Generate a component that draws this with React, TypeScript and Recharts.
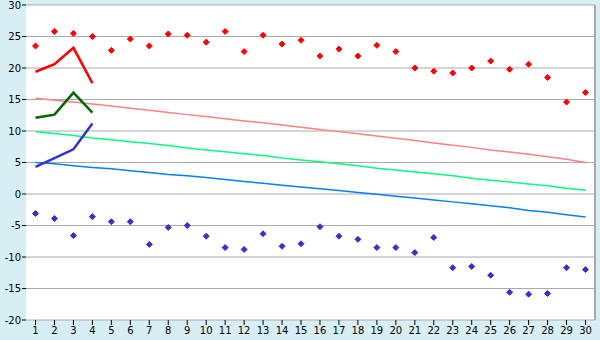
import React from 'react';
import { ComposedChart, Line, XAxis, YAxis, CartesianGrid } from 'recharts';

const categories = Array.from({ length: 30 }, (_, i) => String(i + 1));

// scattered upper points (red) and lower points (blue)
const redPoints = [23.5, 25.8, 25.5, 25.0, 22.8, 24.6, 23.5, 25.4, 25.2, 24.1, 25.8, 22.6, 25.2, 23.8, 24.4, 21.9, 23.0, 21.9, 23.6, 22.6, 20.0, 19.5, 19.2, 20.0, 21.1, 19.8, 20.6, 18.5, 14.6, 16.1];
const bluePoints = [-3.1, -3.9, -6.6, -3.6, -4.4, -4.4, -8.0, -5.3, -5.0, -6.7, -8.5, -8.8, -6.3, -8.3, -7.9, -5.2, -6.7, -7.2, -8.5, -8.5, -9.3, -6.9, -11.7, -11.5, -12.9, -15.6, -15.9, -15.8, -11.7, -12.0];

// short heavy lines over the first four categories
const redLine = [19.4, 20.6, 23.2, 17.6];
const greenLine = [12.1, 12.6, 16.1, 12.9];
const blueLine = [4.3, 5.7, 7.1, 11.2];

// thin trend lines
const salmonTrend = [15.2, 14.9, 14.6, 14.3, 13.95, 13.6, 13.3, 12.95, 12.6, 12.3, 11.95, 11.6, 11.3, 10.95, 10.6, 10.25, 9.9, 9.55, 9.2, 8.85, 8.5, 8.1, 7.75, 7.4, 7.0, 6.65, 6.3, 5.9, 5.5, 5.0];
const greenTrend = [9.9, 9.6, 9.3, 8.9, 8.6, 8.3, 8.0, 7.7, 7.3, 7.0, 6.7, 6.4, 6.1, 5.7, 5.4, 5.1, 4.8, 4.5, 4.1, 3.8, 3.5, 3.2, 2.9, 2.5, 2.2, 1.9, 1.6, 1.3, 0.9, 0.6];
const blueTrend = [5.0, 4.8, 4.5, 4.2, 4.0, 3.7, 3.4, 3.1, 2.9, 2.6, 2.3, 2.0, 1.7, 1.4, 1.1, 0.85, 0.55, 0.25, -0.05, -0.35, -0.65, -0.95, -1.25, -1.55, -1.85, -2.2, -2.6, -2.9, -3.3, -3.65];

const yTicks = [-20, -15, -10, -5, 0, 5, 10, 15, 20, 25, 30];

const data = categories.map((c, i) => ({
  cat: c,
  redPt: redPoints[i],
  bluePt: bluePoints[i],
  redLn: i < redLine.length ? redLine[i] : null,
  greenLn: i < greenLine.length ? greenLine[i] : null,
  blueLn: i < blueLine.length ? blueLine[i] : null,
  salmon: salmonTrend[i],
  green: greenTrend[i],
  blue: blueTrend[i],
}));

const makeMarker = (color: string) => (props: any) => {
  const { cx, cy, index } = props;
  if (cx == null || cy == null) return <g key={index} />;
  const r = 3;
  return (
    <path
      key={index}
      d={`M${cx - r},${cy} L${cx},${cy - r} L${cx + r},${cy} L${cx},${cy + r} Z`}
      fill={color}
      stroke={color}
      strokeWidth={1}
    />
  );
};

const tickStyle = { fontFamily: 'DejaVu Sans', fontSize: 10, fill: '#000' };

export default function App() {
  return (
    <div style={{ position: 'absolute', left: 0, top: 0, width: 600, height: 340, background: '#d8eef5' }}>
      <ComposedChart width={600} height={340} data={data} margin={{ top: 5, right: 0, bottom: 0, left: 0 }}>
        <CartesianGrid vertical={false} stroke="#aaaaaa" fill="#ffffff" />
        <XAxis
          dataKey="cat"
          height={20}
          padding={{ left: 9.5, right: 9.5 }}
          tick={tickStyle}
          tickSize={5}
          tickMargin={2}
          tickLine={{ stroke: '#000' }}
          axisLine={false}
          interval={0}
        />
        <YAxis
          domain={[-20, 30]}
          ticks={yTicks}
          width={26}
          tick={tickStyle}
          tickSize={4}
          tickMargin={1}
          tickLine={{ stroke: '#000' }}
          axisLine={false}
          allowDataOverflow
        />
        <YAxis yAxisId="edge" orientation="right" width={5} tick={false} tickLine={false} axisLine={{ stroke: '#aaaaaa', strokeWidth: 2 }} />

        <Line dataKey="salmon" stroke="#ff8080" strokeWidth={1.5} dot={false} isAnimationActive={false} />
        <Line dataKey="green" stroke="#00ff80" strokeWidth={1.5} dot={false} isAnimationActive={false} />
        <Line dataKey="blue" stroke="#0080ff" strokeWidth={1.5} dot={false} isAnimationActive={false} />

        <Line dataKey="redLn" stroke="#ff0000" strokeWidth={2.5} dot={false} isAnimationActive={false} />
        <Line dataKey="greenLn" stroke="#006600" strokeWidth={2.5} dot={false} isAnimationActive={false} />
        <Line dataKey="blueLn" stroke="#3333cc" strokeWidth={2.5} dot={false} isAnimationActive={false} />

        <Line dataKey="redPt" stroke="none" dot={makeMarker('#ff0000')} activeDot={false} isAnimationActive={false} />
        <Line dataKey="bluePt" stroke="none" dot={makeMarker('#3333cc')} activeDot={false} isAnimationActive={false} />
      </ComposedChart>
    </div>
  );
}
